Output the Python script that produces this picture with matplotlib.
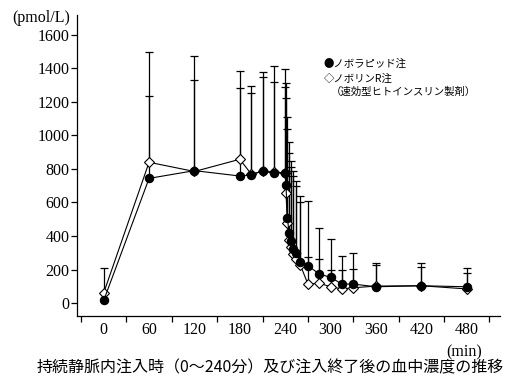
import numpy as np
import matplotlib
matplotlib.use("Agg")
import matplotlib.pyplot as plt

# time points (min)
t = [0, 60, 120, 180, 195, 210, 225, 240, 241, 243, 245, 247, 250, 254, 260,
     270, 285, 300, 315, 330, 360, 420, 480]
# NovoRapid (filled circles): mean and upper error-bar top
aspart_mean = [15, 744, 790, 758, 764, 788, 778, 778, 705, 510, 415, 370, 320, 300, 247,
               223, 173, 153, 113, 113, 97, 103, 97]
aspart_top = [np.nan, 1238, 1330, 1282, 1252, 1347, 1318, 1291, 1222, 1037, 894, 814, 788, 728, 639,
              276, 448, 382, 282, 299, 237, 237, 207]
# Novolin R (open diamonds)
human_mean = [60, 840, 785, 858, 770, 785, 780, 775, 655, 476, 376, 336, 290, 260, 227,
              113, 118, 97, 84, 91, 101, 103, 84]
human_top = [207, 1500, 1476, 1383, 1297, 1377, 1417, 1395, 1315, 1112, 961, 848, 760, 700, 600,
             611, 263, 197, 197, 203, 227, 213, 177]

xticks = [0, 60, 120, 180, 240, 300, 360, 420, 480]
yticks = [0, 200, 400, 600, 800, 1000, 1200, 1400, 1600]

serif = ['Liberation Serif', 'DejaVu Serif']
jp = ['Noto Sans CJK JP', 'DejaVu Sans']

fig = plt.figure(figsize=(5.14, 3.85), dpi=100)
ax = fig.add_axes([0.1498, 0.1792, 0.9728 - 0.1498, 0.961 - 0.1792])

t_arr = np.array(t, float)
for mean, top, mk, fc, ms, z in [(human_mean, human_top, 'D', 'white', 4.8, 3),
                                  (aspart_mean, aspart_top, 'o', 'black', 6.0, 4)]:
    mean = np.array(mean, float)
    top = np.array(top, float)
    up = top - mean
    mask = ~np.isnan(up)
    ax.errorbar(t_arr[mask], mean[mask], yerr=[np.zeros(mask.sum()), up[mask]],
                fmt='none', ecolor='black', elinewidth=0.9, capsize=2.6, capthick=0.9,
                zorder=z - 2)
    ax.plot(t_arr, mean, color='black', lw=0.8, marker=mk, ms=ms, mfc=fc, mec='black',
            mew=0.8, zorder=z)

ax.set_xlim(-35.3, 524)
ax.set_ylim(-77.6, 1719)
ax.spines['top'].set_visible(False)
ax.spines['right'].set_visible(False)
for s in ['left', 'bottom']:
    ax.spines[s].set_linewidth(0.9)

ax.set_xticks(xticks)
ax.set_xticklabels([str(v) for v in xticks], fontfamily=serif, fontsize=11.5)
ax.set_xticks([-30, 30, 90, 150, 210, 270, 330, 390, 450, 510], minor=True)
ax.tick_params(axis='x', which='major', length=0, pad=4)
ax.tick_params(axis='x', which='minor', length=4, width=0.9, direction='out')
ax.set_yticks(yticks)
ax.set_yticklabels([str(v) for v in yticks], fontfamily=serif, fontsize=11.5)
ax.tick_params(axis='y', which='major', length=4, width=0.9, direction='out', pad=1.5)

fig.text(70 / 514, 1 - 18 / 385, '(pmol/L)', fontfamily=serif, fontsize=11.5,
         ha='right', va='center')
fig.text(482 / 514, 1 - 352 / 385, '(min)', fontfamily=serif, fontsize=11.5,
         ha='right', va='center')
fig.text(270 / 514, 1 - 368 / 385, '持続静脈内注入時（0～240分）及び注入終了後の血中濃度の推移',
         fontfamily=jp, fontsize=11.5, ha='center', va='center')

fig.text(324 / 514, 1 - 63.5 / 385, '●ノボラピッド注', fontfamily=jp, fontsize=7.5,
         ha='left', va='center')
fig.text(324 / 514, 1 - 79 / 385, '◇ノボリンR注', fontfamily=jp, fontsize=7.5,
         ha='left', va='center')
fig.text(331 / 514, 1 - 92 / 385, '（速効型ヒトインスリン製剤）', fontfamily=jp, fontsize=7.5,
         ha='left', va='center')

fig.savefig('out.png', dpi=100)
